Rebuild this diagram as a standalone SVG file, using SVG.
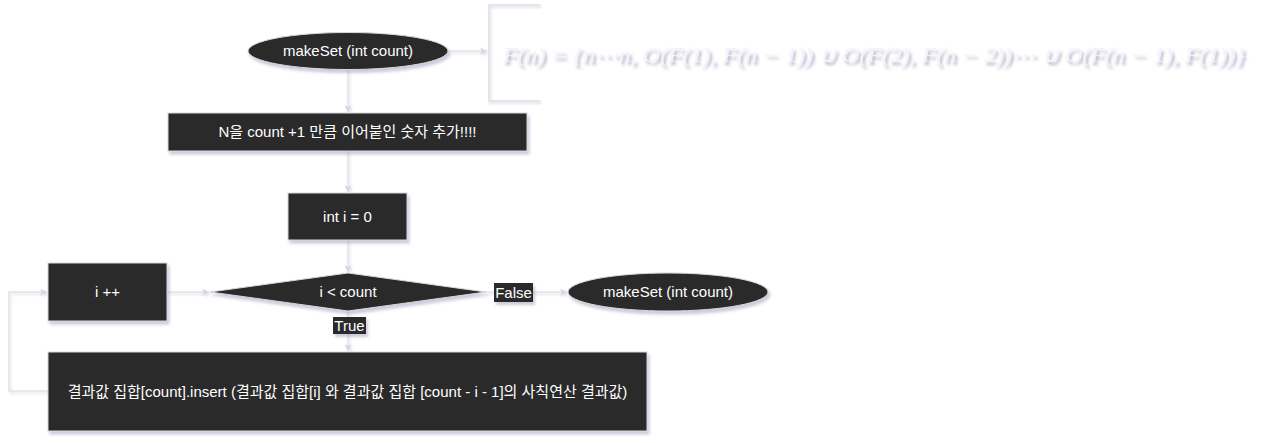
<svg xmlns="http://www.w3.org/2000/svg" width="1263" height="443" viewBox="0 0 1263 443">
<style>
.node{fill:#2a2a2a;stroke:#d8d8d8;stroke-width:1;filter:url(#sh);}
.t{font-family:"Liberation Sans",Arial,"Noto Sans CJK KR",sans-serif;font-size:15px;fill:#ffffff;text-anchor:middle;dominant-baseline:central;}
.e{fill:none;stroke:#e2e2ea;stroke-width:1.5;filter:url(#sh2);}
.lbl{fill:#2a2a2a;filter:url(#sh);}
.f{font-family:"Liberation Serif","Times New Roman",serif;font-style:italic;font-size:21px;fill:#f4f4f8;filter:url(#sh3);}
</style>
<defs>
<filter id="sh" x="-20%" y="-30%" width="140%" height="160%"><feDropShadow dx="2" dy="3" stdDeviation="1.5" flood-color="#8a8ab0" flood-opacity="0.45"/></filter>
<filter id="sh2" filterUnits="userSpaceOnUse" x="0" y="0" width="1263" height="443"><feDropShadow dx="1.5" dy="2" stdDeviation="1" flood-color="#9a9ac0" flood-opacity="0.3"/></filter>
<filter id="sh3" x="-5%" y="-30%" width="110%" height="160%"><feDropShadow dx="2" dy="3" stdDeviation="1.5" flood-color="#7070a0" flood-opacity="0.6"/></filter>
<marker id="ar" markerWidth="10" markerHeight="10" refX="8" refY="5" orient="auto" markerUnits="userSpaceOnUse"><path d="M1,1.5 L8,5 L1,8.5 L3,5 Z" fill="#d6d6e0"/></marker>
</defs>
<g id="connectors">
<path class="e" d="M448,51 L487,51" marker-end="url(#ar)"/>
<path class="e" d="M348,69 L348,112" marker-end="url(#ar)"/>
<path class="e" d="M348,151 L348,192" marker-end="url(#ar)"/>
<path class="e" d="M348,240 L348,272" marker-end="url(#ar)"/>
<path class="e" d="M348,311 L348,351" marker-end="url(#ar)"/>
<path class="e" d="M486,292 L567,292" marker-end="url(#ar)"/>
<path class="e" d="M167,292 L209,292" marker-end="url(#ar)"/>
<path class="e" d="M48,391 L9,391 L9,292 L47,292" marker-end="url(#ar)"/>
<g id="label-true"><rect class="lbl" x="333" y="317" width="33" height="17"/><text class="t" x="349.5" y="325.5">True</text></g>
<g id="label-false"><rect class="lbl" x="494" y="283" width="39" height="19"/><text class="t" x="513.5" y="292.5">False</text></g>
</g>
<g id="start">
<ellipse class="node" cx="348" cy="51" rx="100" ry="18.5"/>
<text class="t" x="348" y="50">makeSet (int count)</text>
</g>
<g id="formula">
<path d="M540,5 L489,5 L489,101 L540,101" fill="none" stroke="#e4e4ec" stroke-width="2" filter="url(#sh2)"/>
<text class="f" x="503" y="62" textLength="742" lengthAdjust="spacingAndGlyphs">F(n) = {n⋯n, O(F(1), F(n − 1)) ∪ O(F(2), F(n − 2))⋯ ∪ O(F(n − 1), F(1))}</text>
</g>
<g id="append">
<rect class="node" x="168" y="113" width="359" height="38"/>
<text class="t" x="347.5" y="131">N을 count +1 만큼 이어붙인 숫자 추가!!!!</text>
</g>
<g id="init">
<rect class="node" x="288" y="193" width="119" height="47"/>
<text class="t" x="347.5" y="216">int i = 0</text>
</g>
<g id="inc">
<rect class="node" x="48" y="263" width="119" height="58"/>
<text class="t" x="107.5" y="291">i ++</text>
</g>
<g id="cond">
<path class="node" d="M210,292 L348,273 L486,292 L348,311 Z"/>
<text class="t" x="348" y="291">i &lt; count</text>
</g>
<g id="end">
<ellipse class="node" cx="668" cy="292" rx="100" ry="19"/>
<text class="t" x="668" y="291">makeSet (int count)</text>
</g>
<g id="insert">
<rect class="node" x="48" y="352" width="599" height="79"/>
<text class="t" x="347.5" y="391">결과값 집합[count].insert (결과값 집합[i] 와 결과값 집합 [count - i - 1]의 사칙연산 결과값)</text>
</g>
</svg>
